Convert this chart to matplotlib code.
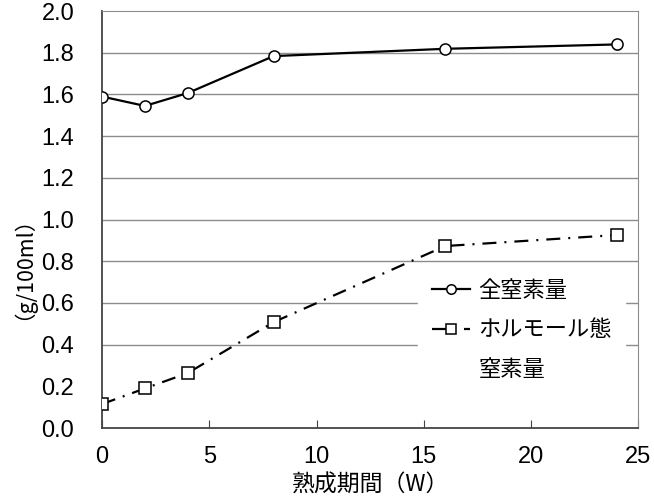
import numpy as np
import matplotlib
matplotlib.use('Agg')
import matplotlib.pyplot as plt
from matplotlib.lines import Line2D

plt.rcParams['font.family'] = ['Liberation Sans', 'Noto Sans CJK JP', 'DejaVu Sans']
cjk = ['Noto Sans CJK JP', 'DejaVu Sans']

weeks = [0, 2, 4, 8, 16, 24]
total_n = [1.59, 1.545, 1.607, 1.784, 1.819, 1.84]
total_n_err = [0, 0, 0, 0, 0, 0.02]
formol_n = [0.115, 0.19, 0.264, 0.508, 0.873, 0.926]

grid_levels = [0.4, 0.6, 0.8, 1.0, 1.2, 1.4, 1.6, 1.8]
legend_labels = ['全窒素量', 'ホルモール態', '窒素量']

fig = plt.figure(figsize=(6.54, 5.03), dpi=100)
ax = fig.add_axes([0.156, 0.149, 0.82, 0.829])

for g in grid_levels:
    ax.axhline(g, color='#8c8c8c', lw=1.0, zorder=0)

# error bars first, then the line with markers on top
ax.errorbar(weeks, total_n, yerr=total_n_err, fmt='none', ecolor='black',
            capsize=2, elinewidth=1.0, zorder=2)
l1, = ax.plot(weeks, total_n, color='black', lw=1.6,
              marker='o', ms=8, mfc='white', mec='black', mew=1.1, zorder=3)
l2, = ax.plot(weeks, formol_n, color='black', lw=1.6, dashes=(6.3, 3.6, 0.9, 3.6),
              marker='s', ms=8, mfc='white', mec='black', mew=1.1, zorder=3)

ax.set_xlim(0, 25)
ax.set_ylim(0, 2.0)
ax.set_xticks([0, 5, 10, 15, 20, 25])
ax.set_yticks(np.arange(0, 2.01, 0.2))
ax.set_yticklabels(['%.1f' % v for v in np.arange(0, 2.01, 0.2)])
ax.tick_params(axis='x', direction='in', length=6, color='#444444',
               labelsize=17, pad=13)
ax.tick_params(axis='y', length=0, labelsize=17, pad=20)

for side in ['top', 'right']:
    ax.spines[side].set_color('#8c8c8c')
for side in ['left', 'bottom']:
    ax.spines[side].set_color('#444444')
    ax.spines[side].set_linewidth(1.3)

ax.set_xlabel('熟成期間（W）', fontsize=16.5, family=cjk, labelpad=4)
ax.set_ylabel('（g/100ml）', fontsize=15.5, family=cjk)
ax.yaxis.set_label_coords(-0.146, 0.41)

blank = Line2D([], [], color='none')
leg = ax.legend([l1, l2, blank], legend_labels,
                loc='upper left', bbox_to_anchor=(0.59, 0.39),
                frameon=True, fancybox=False, edgecolor='white',
                facecolor='white', framealpha=1.0, handlelength=1.7,
                handletextpad=0.4, labelspacing=0.75, borderpad=0.6,
                borderaxespad=0, markerscale=0.85,
                prop={'family': cjk, 'size': 16})

fig.savefig('out.png', dpi=100)
